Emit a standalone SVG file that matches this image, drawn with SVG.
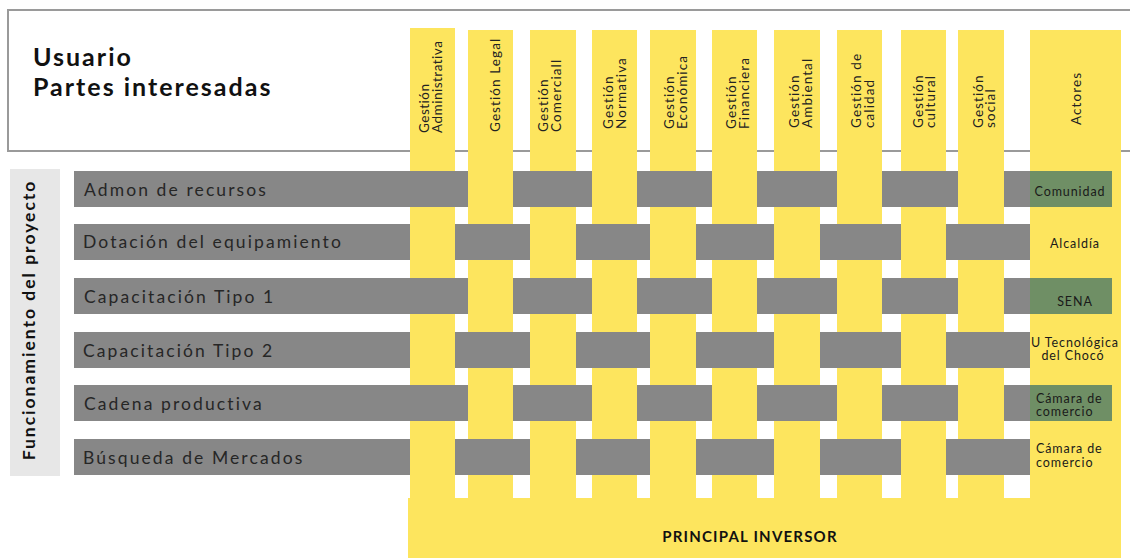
<svg xmlns="http://www.w3.org/2000/svg" width="1130" height="560" viewBox="0 0 1130 560">
<style>
.y{fill:#FDE55E}
.g{fill:#878787}
.gr{fill:#6F8F65}
.ct{font-family:Lato,"Liberation Sans",sans-serif;font-size:13.5px;fill:#222;letter-spacing:1.1px}
.rl{font-family:Lato,"Liberation Sans",sans-serif;font-size:17.5px;fill:#262626;letter-spacing:2.1px}
.at{font-family:Lato,"Liberation Sans",sans-serif;font-size:12.5px;fill:#1a1a1a;letter-spacing:0.9px}
.b{font-family:Lato,"Liberation Sans",sans-serif;font-weight:bold;fill:#111}
</style>
<rect width="1130" height="560" fill="#fff"/>
<g id="header">
<rect x="8" y="10" width="1130" height="141" fill="#fff" stroke="#9a9a9a" stroke-width="2"/>
<text class="b" x="33" y="66" font-size="25" letter-spacing="2">Usuario</text>
<text class="b" x="33" y="96" font-size="25" letter-spacing="2">Partes interesadas</text>
</g>
<g id="side-label">
<rect x="10" y="169" width="50" height="307" fill="#E7E7E7"/>
<text class="b" transform="translate(35,320) rotate(-90)" text-anchor="middle" font-size="17.5" letter-spacing="2">Funcionamiento del proyecto</text>
</g>
<g id="base">
<rect class="y" x="408" y="498" width="713" height="60"/>
<text class="b" x="750" y="542" text-anchor="middle" font-size="15" letter-spacing="1.2">PRINCIPAL INVERSOR</text>
</g>
<g id="columns">
<g id="col1"><rect class="y" x="410" y="28" width="45" height="480"/></g>
<g id="col2"><rect class="y" x="468" y="30" width="45" height="478"/></g>
<g id="col3"><rect class="y" x="530" y="30" width="46" height="478"/></g>
<g id="col4"><rect class="y" x="592" y="30" width="45" height="478"/></g>
<g id="col5"><rect class="y" x="650" y="30" width="46" height="478"/></g>
<g id="col6"><rect class="y" x="712" y="30" width="45" height="478"/></g>
<g id="col7"><rect class="y" x="774" y="30" width="46" height="478"/></g>
<g id="col8"><rect class="y" x="837" y="30" width="45" height="478"/></g>
<g id="col9"><rect class="y" x="901" y="30" width="45" height="478"/></g>
<g id="col10"><rect class="y" x="958" y="30" width="46" height="478"/></g>
<g id="actors"><rect class="y" x="1030" y="30" width="91" height="528"/></g>
</g>
<g id="rows">
<g id="row1"><rect class="g" x="74" y="171" width="956" height="36"/><rect class="gr" x="1030" y="171" width="82" height="36"/></g>
<g id="row2"><rect class="g" x="74" y="224" width="956" height="36"/></g>
<g id="row3"><rect class="g" x="74" y="278" width="956" height="36"/><rect class="gr" x="1030" y="278" width="82" height="36"/></g>
<g id="row4"><rect class="g" x="74" y="332" width="956" height="36"/></g>
<g id="row5"><rect class="g" x="74" y="385" width="956" height="36"/><rect class="gr" x="1030" y="385" width="82" height="36"/></g>
<g id="row6"><rect class="g" x="74" y="439" width="956" height="36"/></g>
</g>
<g id="weave">
<rect class="y" x="468" y="171" width="45" height="36"/><rect class="y" x="592" y="171" width="45" height="36"/><rect class="y" x="712" y="171" width="45" height="36"/><rect class="y" x="837" y="171" width="45" height="36"/><rect class="y" x="958" y="171" width="46" height="36"/>
<rect class="y" x="468" y="278" width="45" height="36"/><rect class="y" x="592" y="278" width="45" height="36"/><rect class="y" x="712" y="278" width="45" height="36"/><rect class="y" x="837" y="278" width="45" height="36"/><rect class="y" x="958" y="278" width="46" height="36"/>
<rect class="y" x="468" y="385" width="45" height="36"/><rect class="y" x="592" y="385" width="45" height="36"/><rect class="y" x="712" y="385" width="45" height="36"/><rect class="y" x="837" y="385" width="45" height="36"/><rect class="y" x="958" y="385" width="46" height="36"/>
<rect class="y" x="410" y="224" width="45" height="36"/><rect class="y" x="530" y="224" width="46" height="36"/><rect class="y" x="650" y="224" width="46" height="36"/><rect class="y" x="774" y="224" width="46" height="36"/><rect class="y" x="901" y="224" width="45" height="36"/>
<rect class="y" x="410" y="332" width="45" height="36"/><rect class="y" x="530" y="332" width="46" height="36"/><rect class="y" x="650" y="332" width="46" height="36"/><rect class="y" x="774" y="332" width="46" height="36"/><rect class="y" x="901" y="332" width="45" height="36"/>
<rect class="y" x="410" y="439" width="45" height="36"/><rect class="y" x="530" y="439" width="46" height="36"/><rect class="y" x="650" y="439" width="46" height="36"/><rect class="y" x="774" y="439" width="46" height="36"/><rect class="y" x="901" y="439" width="45" height="36"/>
</g>
<g id="column-labels">
<text class="ct" transform="translate(429,133) rotate(-90)" style="letter-spacing:0.5px">Gestión<tspan x="0" dy="13">Administrativa</tspan></text>
<text class="ct" transform="translate(500,132) rotate(-90)">Gestión Legal</text>
<text class="ct" transform="translate(548,132) rotate(-90)">Gestión<tspan x="0" dy="13">Comerciall</tspan></text>
<text class="ct" transform="translate(613,129) rotate(-90)">Gestión<tspan x="0" dy="13">Normativa</tspan></text>
<text class="ct" transform="translate(674,129) rotate(-90)">Gestión<tspan x="0" dy="13">Económica</tspan></text>
<text class="ct" transform="translate(736,129) rotate(-90)">Gestión<tspan x="0" dy="13">Financiera</tspan></text>
<text class="ct" transform="translate(799,128) rotate(-90)">Gestión<tspan x="0" dy="13">Ambiental</tspan></text>
<text class="ct" transform="translate(861,128) rotate(-90)">Gestión  de<tspan x="0" dy="12.5">calidad</tspan></text>
<text class="ct" transform="translate(923,128) rotate(-90)">Gestión<tspan x="0" dy="12">cultural</tspan></text>
<text class="ct" transform="translate(983,128) rotate(-90)">Gestión<tspan x="0" dy="12">social</tspan></text>
<text class="ct" transform="translate(1081,125) rotate(-90)">Actores</text>
</g>
<g id="row-labels">
<text class="rl" x="84" y="196">Admon de recursos</text>
<text class="rl" x="83" y="248">Dotación del equipamiento</text>
<text class="rl" x="84" y="303">Capacitación Tipo 1</text>
<text class="rl" x="83" y="357">Capacitación Tipo 2</text>
<text class="rl" x="84" y="410">Cadena productiva</text>
<text class="rl" x="83" y="464">Búsqueda de Mercados</text>
</g>
<g id="actor-labels">
<text class="at" x="1070" y="196" text-anchor="middle">Comunidad</text>
<text class="at" x="1075" y="248" text-anchor="middle">Alcaldía</text>
<text class="at" x="1075" y="306" text-anchor="middle">SENA</text>
<text class="at" x="1075" y="347" text-anchor="middle">U Tecnológica</text>
<text class="at" x="1073" y="360" text-anchor="middle">del Chocó</text>
<text class="at" x="1036" y="403">Cámara de</text>
<text class="at" x="1036" y="416">comercio</text>
<text class="at" x="1036" y="453">Cámara de</text>
<text class="at" x="1036" y="467">comercio</text>
</g>
</svg>
